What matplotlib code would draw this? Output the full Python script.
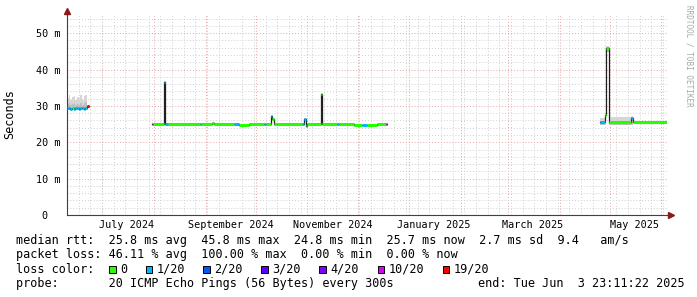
import numpy as np
import matplotlib.pyplot as plt
import matplotlib.dates as mdates
from matplotlib.patches import Rectangle
import pandas as pd

plt.rcParams['font.family'] = ['DejaVu Sans Mono']

# ========================== DATA ==========================
LOSS_COLORS = ['#26ff00', '#00b8ff', '#0059ff', '#5e00ff', '#7e00ff', '#dd00ff', '#ff0000']
LOSS_LABELS = ['0', '1/20', '2/20', '3/20', '4/20', '10/20', '19/20']

# each sample holds until the next one; NaN marks "no data"
t_samples = [
    # June 2024
    '2024-06-10 01:00', '2024-06-11 00:00', '2024-06-12 00:00', '2024-06-13 00:00',
    '2024-06-14 00:00', '2024-06-15 00:00', '2024-06-16 00:00', '2024-06-17 00:00',
    '2024-06-18 00:00', '2024-06-19 00:00', '2024-06-20 00:00', '2024-06-21 00:00',
    '2024-06-22 06:00', '2024-06-23 06:00',
    # Aug - Dec 2024
    '2024-07-30 16:00', '2024-07-31 12:00', '2024-08-07 00:00', '2024-08-08 00:00',
    '2024-08-09 12:00', '2024-08-28 12:00', '2024-08-29 12:00', '2024-09-05 00:00',
    '2024-09-06 00:00', '2024-09-18 00:00', '2024-09-21 00:00', '2024-09-27 00:00',
    '2024-10-06 00:00', '2024-10-07 00:00', '2024-10-10 00:00', '2024-10-11 00:00',
    '2024-10-12 00:00', '2024-10-29 00:00', '2024-10-30 00:00', '2024-10-31 00:00',
    '2024-11-01 00:00', '2024-11-09 00:00', '2024-11-10 00:00', '2024-11-19 00:00',
    '2024-11-20 00:00', '2024-11-29 00:00', '2024-12-04 00:00', '2024-12-06 12:00',
    '2024-12-13 00:00', '2024-12-18 00:00', '2024-12-19 00:00',
    # Apr - Jun 2025
    '2025-04-25 00:00', '2025-04-28 00:00', '2025-04-29 04:00', '2025-04-30 20:00',
    '2025-05-14 00:00', '2025-05-15 00:00', '2025-06-04 10:00',
]
nan = np.nan
median_ms = [
    29.3, 29.3, 29.2, 29.4, 29.2, 29.3, 29.3, 29.2, 29.3, 29.3, 29.2, 29.4, 30.0, nan,
    25.1, 25.0, 36.6, 25.0, 25.0, 25.0, 25.0, 25.4, 25.0, 24.9, 24.8, 25.1,
    25.1, 25.1, 27.2, 26.5, 25.1, 25.0, 26.5, 24.6, 25.1, 33.4, 25.1, 25.1,
    25.1, 24.8, 24.8, 24.8, 24.9, 25.0, nan,
    25.6, 27.6, 45.8, 25.5, 26.8, 25.5, nan,
]
loss_idx = [
    1, 1, 1, 0, 1, 1, 1, 1, 1, 1, 1, 1, 6, -1,
    5, 0, 1, 1, 0, 1, 0, 0, 0, 1, 0, 0,
    1, 0, 1, 0, 0, 1, 1, 0, 0, 0, 0, 1,
    0, 0, 1, 0, 0, 5, -1,
    1, 0, 0, 0, 1, 0, -1,
]
smoke_lo = [
    28.8, 28.8, 28.8, 28.9, 28.7, 28.8, 28.8, 28.7, 28.8, 28.8, 28.8, 28.9, 29.2, nan,
] + [nan] * 31 + [
    24.8, 25.2, 44.8, 24.7, 24.8, 24.7, nan,
]
smoke_hi = [
    32.2, 33.0, 31.6, 32.4, 32.8, 31.5, 32.5, 31.9, 32.9, 31.7, 32.6, 33.1, 32.1, nan,
] + [nan] * 31 + [
    26.7, 28.0, 46.4, 26.9, 27.2, 26.9, nan,
]

month_labels = ['July 2024', 'September 2024', 'November 2024',
                'January 2025', 'March 2025', 'May 2025']
month_label_dates = ['2024-07-16', '2024-09-16', '2024-11-16',
                     '2025-01-16', '2025-03-16', '2025-05-16']
y_ticks = [0, 10, 20, 30, 40, 50]
y_ticklabels = ['0  ', '10 m', '20 m', '30 m', '40 m', '50 m']

x_start, x_end = '2024-06-10 01:00', '2025-06-04 10:00'

# ========================== PLOT ==========================
t = mdates.date2num(pd.to_datetime(t_samples))
med = np.array(median_ms, dtype=float)
lo = np.array(smoke_lo, dtype=float)
hi = np.array(smoke_hi, dtype=float)

W, H = 697, 297
fig = plt.figure(figsize=(W / 100, H / 100), dpi=100)
ax = fig.add_axes([67 / W, (H - 215) / H, 600 / W, 200 / H])
x0, x1 = mdates.date2num(pd.to_datetime([x_start, x_end]))
ax.set_xlim(x0, x1)
ax.set_ylim(0, 55)

# grid
ax.set_yticks(y_ticks)
ax.set_yticks(np.arange(0, 55, 2), minor=True)
ax.xaxis.set_minor_locator(mdates.WeekdayLocator(byweekday=mdates.MO))
dots = (0, (1, 2))
ax.grid(which='minor', color='#cfcfcf', ls=dots, lw=0.7)
ax.grid(which='major', axis='y', color='#e6a4a4', ls=dots, lw=0.7)
month_starts = pd.date_range(x_start, x_end, freq='MS')
for m in mdates.date2num(month_starts):
    ax.axvline(m, color='#e6a4a4', ls=dots, lw=0.7, zorder=0.9)

# smoke
ax.fill_between(t, lo, hi, step='post', color='#d6d6d6', lw=0, zorder=2)
ax.fill_between(t, lo, (lo + hi) / 2, step='post', color='#bfbfbf', lw=0, zorder=2)

# median: black step line, loss-coloured bars on top
ax.step(t, med, where='post', color='#202020', lw=0.9, zorder=3)
for i in range(len(t) - 1):
    if np.isnan(med[i]):
        continue
    ax.hlines(med[i], t[i], t[i + 1], colors=LOSS_COLORS[loss_idx[i]],
              lw=2.2, zorder=4, capstyle='butt')

# axes styling
for s in ['top', 'right']:
    ax.spines[s].set_visible(False)
for s in ['left', 'bottom']:
    ax.spines[s].set_color('#404040')
    ax.spines[s].set_linewidth(0.8)
ax.set_xticks(mdates.date2num(pd.to_datetime(month_label_dates)))
ax.set_xticklabels(month_labels, fontsize=7.3)
ax.set_yticklabels(y_ticklabels, fontsize=7.3)
ax.tick_params(axis='both', which='both', length=0)
ax.tick_params(axis='x', pad=3.5)
ax.tick_params(axis='y', pad=5)
ax.set_ylabel('Seconds', fontsize=8.5)
ax.yaxis.set_label_coords(-51 / 600, 0.505)

# arrow heads
ax.plot([0, 0], [1, 1 + 4 / 200], transform=ax.transAxes, color='#404040',
        lw=0.8, clip_on=False)
ax.plot([0], [1 + 4 / 200], transform=ax.transAxes, marker='^', ms=4.5,
        color='#8b1a1a', clip_on=False)
ax.plot([1, 1 + 3 / 600], [0, 0], transform=ax.transAxes, color='#404040',
        lw=0.8, clip_on=False)
ax.plot([1 + 4 / 600], [0], transform=ax.transAxes, marker='>', ms=4.5,
        color='#8b1a1a', clip_on=False)

fig.text(689 / W, 1 - 5 / H, 'RRDTOOL / TOBI OETIKER', rotation=270,
         fontsize=5.5, color='#a8a8a8', ha='center', va='top')

# legend block
def px_text(x, y, s, **kw):
    fig.text(x / W, 1 - y / H, s, fontsize=8.5, va='baseline', ha='left', **kw)

px_text(16, 244.3, 'median rtt:  25.8 ms avg  45.8 ms max  24.8 ms min  '
                   '25.7 ms now  2.7 ms sd  9.4   am/s')
px_text(16, 258.3, 'packet loss: 46.11 % avg  100.00 % max  0.00 % min  0.00 % now')
px_text(16, 272.7, 'loss color:')
square_x = [109, 145.7, 203, 261, 319, 377.7, 442.7]
for sx, c, lab in zip(square_x, LOSS_COLORS, LOSS_LABELS):
    fig.add_artist(Rectangle((sx / W, 1 - 272.7 / H), 6.5 / W, 7 / H,
                             transform=fig.transFigure, facecolor=c,
                             edgecolor='black', lw=0.7))
    px_text(sx + 11, 272.7, lab)
px_text(16, 287.3, 'probe:       20 ICMP Echo Pings (56 Bytes) every 300s')
px_text(478, 287.3, 'end: Tue Jun  3 23:11:22 2025')

fig.savefig('out.png', dpi=100)
